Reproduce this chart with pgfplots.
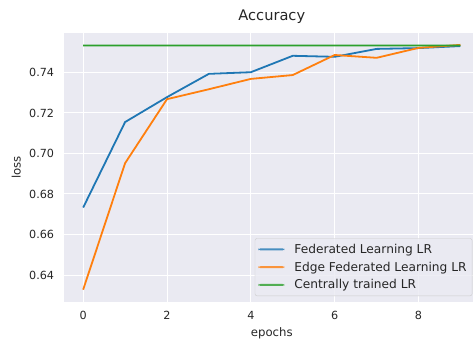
\documentclass[border=0pt]{standalone}
\usepackage{pgfplots}
\pgfplotsset{compat=1.18}
\usepackage{fontspec}
\setmainfont{DejaVu Sans}
\definecolor{bgc}{HTML}{EAEAF2}
\definecolor{txt}{HTML}{262626}
\definecolor{tabblue}{RGB}{31,119,180}
\definecolor{taborange}{RGB}{255,127,14}
\definecolor{tabgreen}{RGB}{44,160,44}
\begin{document}
\begin{tikzpicture}
\begin{axis}[
  scale only axis,
  clip=false,
  width=415pt, height=269.3pt,
  xmin=-0.45, xmax=9.45,
  ymin=0.6267, ymax=0.7596,
  xtick={0,2,4,6,8},
  ytick={0.64,0.66,0.68,0.70,0.72,0.74},
  /pgf/number format/assume math mode=true,
  yticklabel style={/pgf/number format/fixed,/pgf/number format/precision=2,/pgf/number format/fixed zerofill},
  tick label style={font=\fontsize{11.2}{13}\selectfont, text=txt, inner sep=0pt},
  yticklabel style={xshift=-10pt},
  xticklabel style={yshift=-9pt},
  major tick length=0pt,
  axis line style={draw=none},
  axis background/.style={fill=bgc},
  grid=major,
  major grid style={white, line width=1pt},
  title={Accuracy},
  title style={font=\fontsize{14.6}{16}\selectfont, text=txt, inner sep=0pt, anchor=base, at={(0.5,1)}, yshift=6pt},
  xlabel={epochs},
  ylabel={loss},
  label style={font=\fontsize{11.7}{13}\selectfont, text=txt},
  xlabel style={inner sep=0pt, anchor=base, at={(0.5,0)}, yshift=-34.5pt},
  ylabel style={inner sep=0pt, anchor=base, at={(0,0.5)}, yshift=43.6pt},
  legend style={at={(1,0)}, anchor=south east, xshift=-7pt, yshift=6pt,
    fill=bgc, fill opacity=0.8, text opacity=1, draw=black!20, rounded corners=2pt,
    font=\fontsize{12.2}{14}\selectfont, text=txt, row sep=3pt, inner xsep=3.5pt, inner ysep=3.5pt},
  legend cell align=left,
  legend image code/.code={\fill[#1, draw=none] (0pt,-1pt) rectangle (26pt,1pt); \path (33pt,0pt);},
  every axis plot/.append style={line width=1.8pt, line join=round, mark=none},
]
\addplot[color=tabblue] coordinates {
(0,0.6733) (1,0.7155) (2,0.7278) (3,0.7393) (4,0.7401) (5,0.7482) (6,0.7477) (7,0.7516) (8,0.7520) (9,0.7530)};
\addlegendentry{Federated Learning LR}
\addplot[color=taborange] coordinates {
(0,0.6328) (1,0.6952) (2,0.7268) (3,0.7317) (4,0.7368) (5,0.7387) (6,0.7486) (7,0.7472) (8,0.7521) (9,0.7536)};
\addlegendentry{Edge Federated Learning LR}
\addplot[color=tabgreen] coordinates {
(0,0.7533) (1,0.75332) (2,0.7533) (3,0.75332) (4,0.7533) (5,0.75332) (6,0.7533) (7,0.75332) (8,0.7533) (9,0.75332)};
\addlegendentry{Centrally trained LR}
\end{axis}
\pgfresetboundingbox
\path[use as bounding box] ([shift={(-64.3pt,-38pt)}]current axis.south west) rectangle ([shift={(408.7pt,32.7pt)}]current axis.north west);
\end{tikzpicture}
\end{document}
